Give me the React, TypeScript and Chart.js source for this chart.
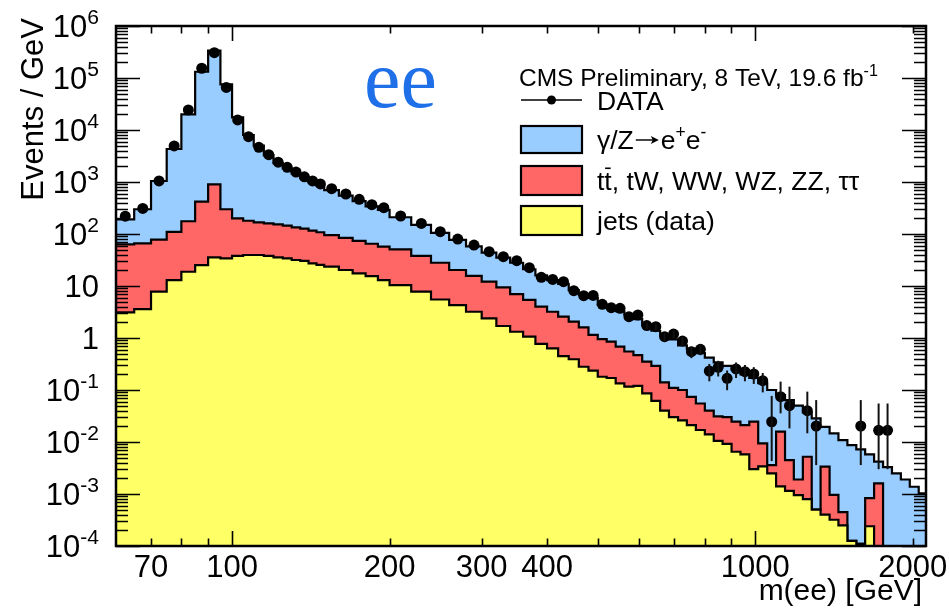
import React, { useEffect, useRef } from "react";
import { Chart, registerables } from "chart.js";

Chart.register(...registerables);

// ---------------- data ----------------
// histogram bin edges in GeV (variable binning)
const binEdges = [
  60, 65, 70, 75, 80, 85, 90, 95, 100, 105, 110, 115, 120, 125, 130, 135, 140, 145, 150,
  160, 170, 180, 190, 200,
  220, 240, 260, 280, 300, 320, 340, 360, 380, 400, 420, 440, 460, 480, 500,
  520, 541, 562, 585, 608, 633, 658, 684, 712, 740, 770, 801, 833, 866, 901, 937, 974,
  1013, 1054, 1096, 1140, 1185, 1233, 1282, 1333, 1387, 1442, 1500, 1560, 1622, 1687,
  1755, 1825, 1898, 1974, 2053, 2135,
];

// observed events / GeV per bin (0 = no event)
const dataValues = [
  220, 310, 1050, 4950, 24300, 154000, 307000, 66000, 15600, 7430, 4650, 3350, 2400, 1920, 1550, 1260, 1050, 920,
  745, 588, 465, 366, 321,
  222, 160, 111, 80, 61.4, 45.7, 36.6, 30.7, 22.5, 14.7, 13.4, 12.1, 8.13, 6.5, 6.6,
  4.45, 3.83, 3.73, 2.57, 2.77, 1.73, 1.65, 1.06, 1.19, 0.875, 0.545, 0.607, 0.232, 0.273, 0.168, 0.254, 0.225, 0.203, 0.151,
  0.0245, 0.0743, 0.0499, 0, 0.04, 0.0203, 0, 0, 0, 0, 0.0203, 0, 0.0168, 0.0168, 0, 0, 0, 0,
];

// bins with visible error bars (index into dataValues) and their limits
const errBinIndex = [43, 44, 45, 46, 47, 48, 49, 50, 51, 52, 53, 54, 55, 56, 57, 58, 59, 61, 62, 67, 69, 70];
const errHigh = [1.99, 1.91, 1.26, 1.4, 1.05, 0.68, 0.747, 0.317, 0.364, 0.237, 0.338, 0.303, 0.275, 0.212,
  0.077, 0.145, 0.116, 0.093, 0.064, 0.064, 0.055, 0.055];
const errLow = [1.47, 1.39, 0.86, 0.98, 0.7, 0.41, 0.467, 0.147, 0.182, 0.099, 0.17, 0.147, 0.131, 0.09,
  0.0043, 0.0356, 0.0183, 0.0147, 0.0036, 0.0036, 0.003, 0.003];

// stacked histogram tops (events / GeV)
// total: gamma/Z->ee + ttbar-like + jets
const stackTotal = [
  191, 299, 1045, 4315, 20000, 132000, 335000, 75700, 17500, 8020, 4990, 3300, 2300, 1820, 1460, 1190, 990, 860,
  700, 545, 430, 340, 290,
  210, 150, 105, 77, 58, 44, 35, 28, 21, 16, 13, 11, 8.3, 6.8, 5.9,
  4.4, 3.8, 3.3, 2.8, 2.3, 1.75, 1.38, 1.1, 0.94, 0.72, 0.62, 0.51, 0.42, 0.34, 0.29, 0.25, 0.2, 0.17, 0.135,
  0.1, 0.08, 0.064, 0.05, 0.037, 0.0285, 0.0195, 0.0147, 0.0109, 0.0087, 0.0072, 0.0058, 0.0042, 0.0033, 0.0025, 0.0019, 0.00138, 0.00103,
];
// ttbar, tW, WW, WZ, ZZ, tautau + jets
const stackTop = [
  63, 66, 78, 110, 176, 418, 900, 299, 200, 180, 168, 160, 153, 145, 134, 127, 116, 108,
  95, 84, 74, 65, 57,
  50.7, 37.8, 28, 20.3, 15.6, 12.1, 9.4, 7.0, 5.4, 4.0, 3.2, 2.57, 2.06, 1.6, 1.15,
  0.95, 0.85, 0.68, 0.55, 0.47, 0.35, 0.29, 0.14, 0.11, 0.1, 0.074, 0.055, 0.04, 0.031, 0.03, 0.0246, 0.0212, 0.0246, 0.0094,
  0.0036, 0.0158, 0.0045, 0.0019, 0.0052, 0.0005, 0.00336, 0.00096, 0.00045, 0.000125, 0.00011, 0.00083, 0.0016, 0, 0, 0, 0, 0, 0,
];
// jets (from data)
const stackJets = [
  3.1, 3.6, 7.8, 13, 18.8, 25.3, 35.6, 34, 37.8, 39.5, 39.5, 37.8, 35.6, 34, 31.6, 30.3, 27.3, 25.5,
  23.5, 20.3, 17.5, 15.5, 13,
  10.4, 7.8, 5.5, 4.3, 3.2, 2.39, 1.7, 1.32, 1.06, 0.77, 0.63, 0.45, 0.39, 0.28, 0.235,
  0.18, 0.17, 0.134, 0.116, 0.12, 0.086, 0.062, 0.04, 0.03, 0.026, 0.0212, 0.017, 0.014, 0.0105, 0.0092, 0.0065, 0.0058, 0.003, 0.0034,
  0.0025, 0.0014, 0.00115, 0.00095, 0.0008, 0.0005, 0.0004, 0.00032, 0.00025, 0.000125, 0.00011, 0.00024, 0, 0, 0, 0, 0, 0, 0,
];

// axes
const X_MIN = 60;
const X_MAX = 2120;
const Y_MIN = 1e-4;
const Y_MAX = 1e6;
const yTickExponents = [6, 5, 4, 3, 2, 1, 0, -1, -2, -3, -4];
const xLabelValues = [70, 100, 200, 300, 400, 1000, 2000];
const xMajorTicks = [100, 1000];
const xMinorTicks = [70, 80, 90, 200, 300, 400, 500, 600, 700, 800, 900, 2000];

const seriesLabels = ["DATA", "γ/Z→e+e-", "tt̄, tW, WW, WZ, ZZ, ττ", "jets (data)"];
const BLUE = "#99ccff";
const RED = "#ff6666";
const YELLOW = "#ffff66";
const FONT = '"Liberation Sans", Arial, Helvetica, sans-serif';

// ---------------- helpers ----------------
type Seg = { t: string; sup?: boolean; bar?: boolean; arrow?: number };

function drawRich(
  ctx: CanvasRenderingContext2D,
  segs: Seg[],
  x: number,
  y: number,
  size: number,
  align: "left" | "right" | "center",
  color = "#000",
  supScale = 0.66
) {
  const supSize = size * supScale;
  const widths = segs.map((s) => {
    if (s.arrow) return s.arrow;
    ctx.font = `${s.sup ? supSize : size}px ${FONT}`;
    return ctx.measureText(s.t).width;
  });
  const total = widths.reduce((a, b) => a + b, 0);
  let cx = align === "left" ? x : align === "right" ? x - total : x - total / 2;
  ctx.fillStyle = color;
  ctx.textAlign = "left";
  ctx.textBaseline = "alphabetic";
  segs.forEach((s, i) => {
    if (s.arrow) {
      const ay = y - size * 0.34;
      const x0 = cx + 2;
      const x1 = cx + s.arrow - 2;
      ctx.save();
      ctx.strokeStyle = color;
      ctx.fillStyle = color;
      ctx.lineWidth = Math.max(1.2, size * 0.055);
      ctx.beginPath();
      ctx.moveTo(x0, ay);
      ctx.lineTo(x1 - 5, ay);
      ctx.stroke();
      ctx.beginPath();
      ctx.moveTo(x1, ay);
      ctx.lineTo(x1 - 8, ay - 4);
      ctx.lineTo(x1 - 6, ay);
      ctx.lineTo(x1 - 8, ay + 4);
      ctx.closePath();
      ctx.fill();
      ctx.restore();
    } else {
      ctx.font = `${s.sup ? supSize : size}px ${FONT}`;
      ctx.fillText(s.t, cx, s.sup ? y - size * 0.42 : y);
      if (s.bar) {
        ctx.save();
        ctx.strokeStyle = color;
        ctx.lineWidth = Math.max(1, size * 0.06);
        ctx.beginPath();
        ctx.moveTo(cx + widths[i] * 0.1, y - size * 0.82);
        ctx.lineTo(cx + widths[i] * 0.85, y - size * 0.82);
        ctx.stroke();
        ctx.restore();
      }
    }
    cx += widths[i];
  });
  return total;
}

function histPoints(values: number[]) {
  const pts = values.map((v, i) => ({ x: binEdges[i], y: v > 0 ? v : 1e-7 }));
  const last = values[values.length - 1];
  pts.push({ x: binEdges[values.length], y: last > 0 ? last : 1e-7 });
  return pts;
}

function segsFromLabel(label: string): Seg[] {
  if (label.startsWith("γ"))
    return [{ t: "γ/Z" }, { t: "", arrow: 27 }, { t: "e" }, { t: "+", sup: true }, { t: "e" }, { t: "-", sup: true }];
  if (label.startsWith("tt")) return [{ t: "t" }, { t: "t", bar: true }, { t: ", tW, WW, WZ, ZZ, ττ" }];
  return [{ t: label }];
}

// ---------------- plugins ----------------
const errorBarPlugin = {
  id: "errorBars",
  afterDatasetsDraw(chart: any) {
    const { ctx, chartArea: ca, scales } = chart;
    const xs = scales.x;
    const ys = scales.y;
    ctx.save();
    ctx.beginPath();
    ctx.rect(ca.left, ca.top, ca.right - ca.left, ca.bottom - ca.top);
    ctx.clip();
    ctx.strokeStyle = "#111";
    ctx.lineWidth = 2;
    errBinIndex.forEach((bi, k) => {
      const xc = (binEdges[bi] + binEdges[bi + 1]) / 2;
      const px = xs.getPixelForValue(xc);
      ctx.beginPath();
      ctx.moveTo(px, ys.getPixelForValue(errHigh[k]));
      ctx.lineTo(px, ys.getPixelForValue(errLow[k]));
      ctx.stroke();
    });
    ctx.restore();
  },
};

const frameAxesPlugin = {
  id: "rootFrame",
  afterDraw(chart: any) {
    const { ctx, chartArea: ca, scales } = chart;
    const xs = scales.x;
    const ys = scales.y;
    ctx.save();
    // ticks
    ctx.strokeStyle = "#000";
    ctx.lineWidth = 1.6;
    ctx.beginPath();
    yTickExponents.forEach((e) => {
      for (let m = 1; m <= 9; m++) {
        if (m > 1 && e === 6) break;
        const v = m * Math.pow(10, e);
        const py = Math.round(ys.getPixelForValue(v)) + 0.5;
        const len = m === 1 ? 24 : 12;
        ctx.moveTo(ca.left, py);
        ctx.lineTo(ca.left + len, py);
        ctx.moveTo(ca.right, py);
        ctx.lineTo(ca.right - len, py);
      }
    });
    xMajorTicks.forEach((v) => {
      const px = Math.round(xs.getPixelForValue(v)) + 0.5;
      ctx.moveTo(px, ca.bottom);
      ctx.lineTo(px, ca.bottom - 15);
      ctx.moveTo(px, ca.top);
      ctx.lineTo(px, ca.top + 15);
    });
    xMinorTicks.forEach((v) => {
      const px = Math.round(xs.getPixelForValue(v)) + 0.5;
      ctx.moveTo(px, ca.bottom);
      ctx.lineTo(px, ca.bottom - 7.5);
      ctx.moveTo(px, ca.top);
      ctx.lineTo(px, ca.top + 7.5);
    });
    ctx.stroke();
    // frame
    ctx.lineWidth = 2.5;
    ctx.strokeRect(ca.left, ca.top, ca.right - ca.left, ca.bottom - ca.top);

    // y tick labels
    const YL = 31;
    const YR = 99;
    yTickExponents.forEach((e) => {
      const py = ys.getPixelForValue(Math.pow(10, e));
      const base = py + 11;
      if (e === 0) drawRich(ctx, [{ t: "1" }], YR, base, YL, "right");
      else if (e === 1) drawRich(ctx, [{ t: "10" }], YR, base, YL, "right");
      else drawRich(ctx, [{ t: "10" }, { t: String(e), sup: true }], YR, base, YL, "right", "#000", 0.68);
    });
    // x tick labels
    xLabelValues.forEach((v) => {
      const px = xs.getPixelForValue(v);
      drawRich(ctx, [{ t: String(v) }], px, 577, 31, "center");
    });
    // axis titles
    drawRich(ctx, [{ t: "m(ee) [GeV]" }], 922, 600, 30, "right");
    ctx.save();
    ctx.translate(43, 18);
    ctx.rotate(-Math.PI / 2);
    drawRich(ctx, [{ t: "Events / GeV" }], 0, 0, 31, "right");
    ctx.restore();

    // channel label
    ctx.fillStyle = "#1f6fe8";
    ctx.font = `82px "Liberation Serif", "DejaVu Serif", serif`;
    ctx.textAlign = "left";
    ctx.textBaseline = "alphabetic";
    ctx.fillText("ee", 364, 107);

    // legend
    drawRich(ctx, [{ t: "CMS Preliminary, 8 TeV, 19.6 fb" }, { t: "-1", sup: true }], 519, 86, 24.5, "left");
    const ds = chart.data.datasets;
    const lx0 = 521;
    const lx1 = 582;
    const textX = 597;
    // DATA entry
    ctx.strokeStyle = "#000";
    ctx.lineWidth = 1.5;
    ctx.beginPath();
    ctx.moveTo(lx0, 100);
    ctx.lineTo(lx1, 100);
    ctx.stroke();
    ctx.fillStyle = "#000";
    ctx.beginPath();
    ctx.arc((lx0 + lx1) / 2, 100, 4.5, 0, Math.PI * 2);
    ctx.fill();
    drawRich(ctx, segsFromLabel(ds[0].label), textX, 109.5, 26.5, "left");
    const boxes = [
      { d: ds[3], y0: 126, y1: 153 },
      { d: ds[2], y0: 166, y1: 195 },
      { d: ds[1], y0: 206, y1: 235 },
    ];
    boxes.forEach((b) => {
      ctx.fillStyle = b.d.backgroundColor;
      ctx.fillRect(lx0, b.y0, lx1 - lx0, b.y1 - b.y0);
      ctx.strokeStyle = "#000";
      ctx.lineWidth = 2.2;
      ctx.strokeRect(lx0, b.y0, lx1 - lx0, b.y1 - b.y0);
      drawRich(ctx, segsFromLabel(b.d.label), textX, (b.y0 + b.y1) / 2 + 9.5, 26.5, "left");
    });
    ctx.restore();
  },
};

// ---------------- component ----------------
export default function App() {
  const canvasRef = useRef<HTMLCanvasElement | null>(null);

  useEffect(() => {
    const canvas = canvasRef.current;
    if (!canvas) return;
    const centers = dataValues.map((_, i) => (binEdges[i] + binEdges[i + 1]) / 2);
    const dataPts = dataValues
      .map((v, i) => ({ x: centers[i], y: v }))
      .filter((p) => p.y > 0);

    const histDs = (label: string, values: number[], color: string, order: number) => ({
      type: "line" as const,
      label,
      data: histPoints(values),
      stepped: true,
      borderColor: "#000",
      borderWidth: 2.2,
      borderJoinStyle: "miter" as const,
      backgroundColor: color,
      fill: "start",
      pointRadius: 0,
      order,
    });

    const chart = new Chart(canvas, {
      type: "line",
      data: {
        datasets: [
          {
            type: "scatter",
            label: seriesLabels[0],
            data: dataPts,
            pointRadius: 5.5,
            pointBackgroundColor: "#000",
            pointBorderColor: "#000",
            pointBorderWidth: 0,
            showLine: false,
            order: 0,
          } as any,
          histDs(seriesLabels[3], stackJets, YELLOW, 1),
          histDs(seriesLabels[2], stackTop, RED, 2),
          histDs(seriesLabels[1], stackTotal, BLUE, 3),
        ],
      },
      options: {
        responsive: false,
        animation: false,
        layout: { padding: { left: 116, right: 23, top: 26, bottom: 65 } },
        scales: {
          x: { type: "logarithmic", min: X_MIN, max: X_MAX, display: false },
          y: { type: "logarithmic", min: Y_MIN, max: Y_MAX, display: false },
        },
        plugins: {
          legend: { display: false },
          tooltip: { enabled: false },
        },
      } as any,
      plugins: [errorBarPlugin, frameAxesPlugin],
    });
    return () => chart.destroy();
  }, []);

  return (
    <div style={{ position: "fixed", left: 0, top: 0, width: 949, height: 611, background: "#fff" }}>
      <canvas ref={canvasRef} width={949} height={611} style={{ width: 949, height: 611, display: "block" }} />
    </div>
  );
}
